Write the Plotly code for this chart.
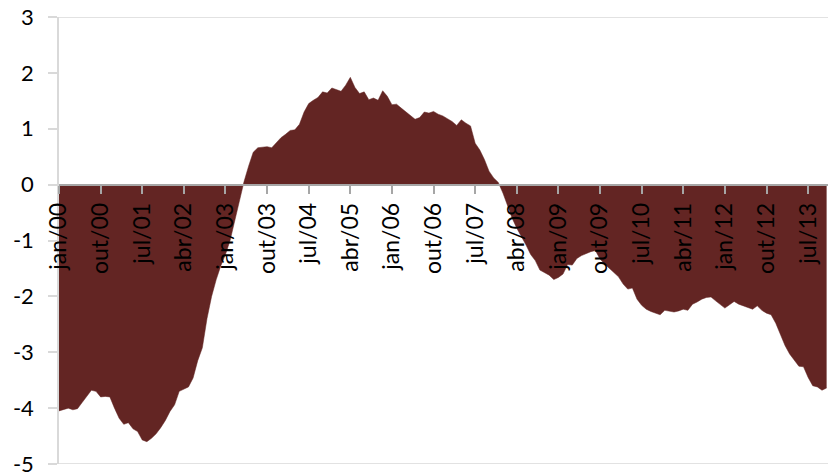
import plotly.graph_objects as go

month_names = ["jan", "fev", "mar", "abr", "mai", "jun", "jul", "ago", "set", "out", "nov", "dez"]
years = ["00", "01", "02", "03", "04", "05", "06", "07", "08", "09", "10", "11", "12", "13"]

values = [
    -4.05, -4.03, -4.00, -4.03, -4.01, -3.90, -3.78, -3.68, -3.70, -3.80, -3.79, -3.80,
    -4.00, -4.18, -4.29, -4.26, -4.37, -4.42, -4.57, -4.60, -4.54, -4.46, -4.35, -4.22,
    -4.06, -3.94, -3.70, -3.66, -3.62, -3.46, -3.15, -2.92, -2.40, -2.00, -1.70, -1.45,
    -1.25, -1.00, -0.65, -0.30, 0.05, 0.33, 0.58, 0.66, 0.67, 0.68, 0.66, 0.76,
    0.84, 0.90, 0.97, 0.98, 1.08, 1.30, 1.45, 1.51, 1.56, 1.66, 1.64, 1.73,
    1.70, 1.67, 1.78, 1.92, 1.74, 1.63, 1.66, 1.52, 1.55, 1.51, 1.68, 1.58,
    1.43, 1.44, 1.37, 1.30, 1.24, 1.17, 1.20, 1.30, 1.28, 1.31, 1.26, 1.23,
    1.18, 1.13, 1.06, 1.16, 1.10, 1.05, 0.74, 0.62, 0.45, 0.24, 0.12, 0.04,
    -0.15, -0.38, -0.60, -0.78, -0.92, -1.08, -1.25, -1.36, -1.53, -1.58, -1.62, -1.70,
    -1.66, -1.60, -1.43, -1.44, -1.32, -1.27, -1.23, -1.20, -1.18, -1.33, -1.42, -1.50,
    -1.58, -1.65, -1.78, -1.87, -1.85, -2.05, -2.16, -2.23, -2.27, -2.30, -2.33, -2.25,
    -2.27, -2.28, -2.26, -2.23, -2.25, -2.14, -2.10, -2.05, -2.02, -2.01, -2.08, -2.14,
    -2.21, -2.15, -2.09, -2.14, -2.17, -2.20, -2.23, -2.17, -2.25, -2.30, -2.33, -2.48,
    -2.68, -2.88, -3.03, -3.15, -3.25, -3.26, -3.45, -3.60, -3.62, -3.68, -3.64,
]

categories = [f"{m}/{y}" for y in years for m in month_names][: len(values)]

tick_labels = ["jan/00", "out/00", "jul/01", "abr/02", "jan/03", "out/03", "jul/04",
               "abr/05", "jan/06", "out/06", "jul/07", "abr/08", "jan/09", "out/09",
               "jul/10", "abr/11", "jan/12", "out/12", "jul/13"]

y_ticks = [3, 2, 1, 0, -1, -2, -3, -4, -5]
y_tick_text = ["3", "2", "1", "0", "-1", "-2", "-3", "-4", "-5"]

fill_color = "#632523"
font_family = "Lato, Carlito, Calibri, sans-serif"

fig = go.Figure()
fig.add_trace(go.Scatter(
    x=categories, y=values, mode="lines", fill="tozeroy",
    line=dict(color=fill_color, width=0.5), fillcolor=fill_color,
    hoverinfo="x+y", showlegend=False,
))

fig.update_layout(
    width=828, height=484,
    margin=dict(l=59, r=0, t=17, b=20, autoexpand=False),
    paper_bgcolor="white", plot_bgcolor="white",
    font=dict(family=font_family, size=22, color="black"),
    xaxis=dict(
        type="category", range=[0, 166.3],
        anchor="free", position=0.625,
        showgrid=False, zeroline=False,
        showline=True, linecolor="#a6a6a6", linewidth=2,
        ticks="outside", ticklen=8, tickwidth=1.5, tickcolor="#a6a6a6",
        tickmode="array", tickvals=tick_labels, ticktext=tick_labels,
        tickangle=-90, tickfont=dict(family=font_family, size=23, color="black"),
        layer="above traces", automargin=False,
    ),
    yaxis=dict(
        range=[-5, 3], domain=[0, 1],
        showgrid=False, zeroline=False,
        showline=True, linecolor="#d9d9d9", linewidth=1.5,
        ticks="outside", ticklen=9, tickwidth=1.5, tickcolor="#d9d9d9",
        tickmode="array", tickvals=y_ticks, ticktext=y_tick_text,
        tickfont=dict(family=font_family, size=22, color="black"),
        ticklabelstandoff=10, automargin=False,
    ),
    shapes=[
        dict(type="line", xref="paper", yref="y", x0=0, x1=1, y0=3, y1=3,
             line=dict(color="#d9d9d9", width=1.5), layer="below"),
        dict(type="line", xref="paper", yref="y", x0=0, x1=1, y0=-5, y1=-5,
             line=dict(color="#d9d9d9", width=1.5), layer="below"),
    ],
)

fig.write_html(
    "out.html",
    config={"displayModeBar": False},
    post_script="document.body.style.margin='0';document.body.style.overflow='hidden';",
)
